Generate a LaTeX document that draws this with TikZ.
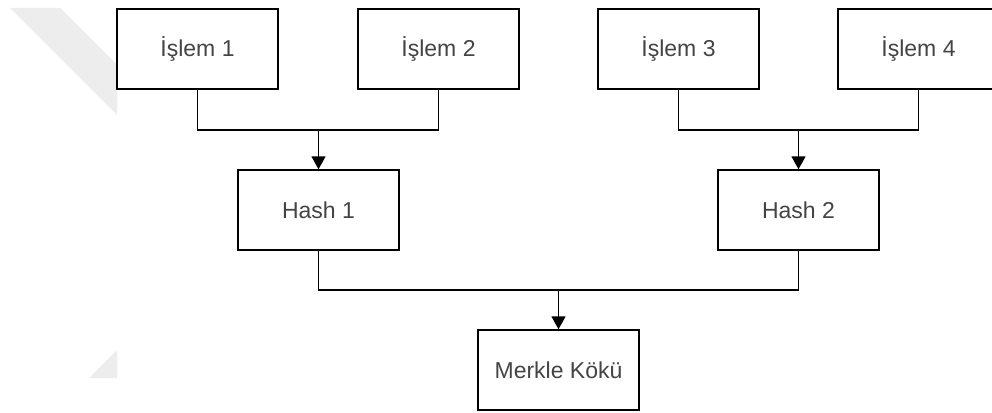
\documentclass[tikz,border=0pt]{standalone}
\usepackage{fontspec}
\setmainfont{Liberation Sans}
\usetikzlibrary{arrows.meta}
\definecolor{txtgray}{HTML}{444444}
\definecolor{markgray}{HTML}{EDEDED}
\begin{document}
\begin{tikzpicture}[x=1pt,y=-1pt,
  blockbox/.style={draw=black, line width=1.4pt, fill=white,
    minimum width=161pt, minimum height=80pt, inner sep=0pt,
    text=txtgray, font=\fontsize{23}{27}\selectfont},
  link/.style={draw=black, line width=1.4pt},
  tiparrow/.style={link, -{Triangle[width=14pt,length=13pt]}}]
  \useasboundingbox (0,0) rectangle (992,412);
  \fill[white] (0,0) rectangle (992,412);
  % faint background mark on the left margin
  \fill[markgray] (10,8) -- (60,8) -- (117,65) -- (117,115) -- cycle;
  \fill[markgray] (89,378) -- (117,350) -- (117,378) -- cycle;

  % leaves
  \node[blockbox] (t1) at (197.5,49) {İşlem 1};
  \node[blockbox] (t2) at (438.5,49) {İşlem 2};
  \node[blockbox] (t3) at (678.5,49) {İşlem 3};
  \node[blockbox] (t4) at (918.5,49) {İşlem 4};
  % intermediate hashes
  \node[blockbox] (h1) at (318.5,210) {Hash 1};
  \node[blockbox] (h2) at (798.5,210) {Hash 2};
  % root
  \node[blockbox] (root) at (558.5,370) {Merkle Kökü};

  % junction points
  \coordinate (j1) at (318.5,130);
  \coordinate (j2) at (798.5,130);
  \coordinate (j3) at (558.5,290);

  \draw[link] (t1.south) |- (j1) -| (t2.south);
  \draw[tiparrow] (j1) -- (h1.north);
  \draw[link] (t3.south) |- (j2) -| (t4.south);
  \draw[tiparrow] (j2) -- (h2.north);
  \draw[link] (h1.south) |- (j3) -| (h2.south);
  \draw[tiparrow] (j3) -- (root.north);
\end{tikzpicture}
\end{document}
